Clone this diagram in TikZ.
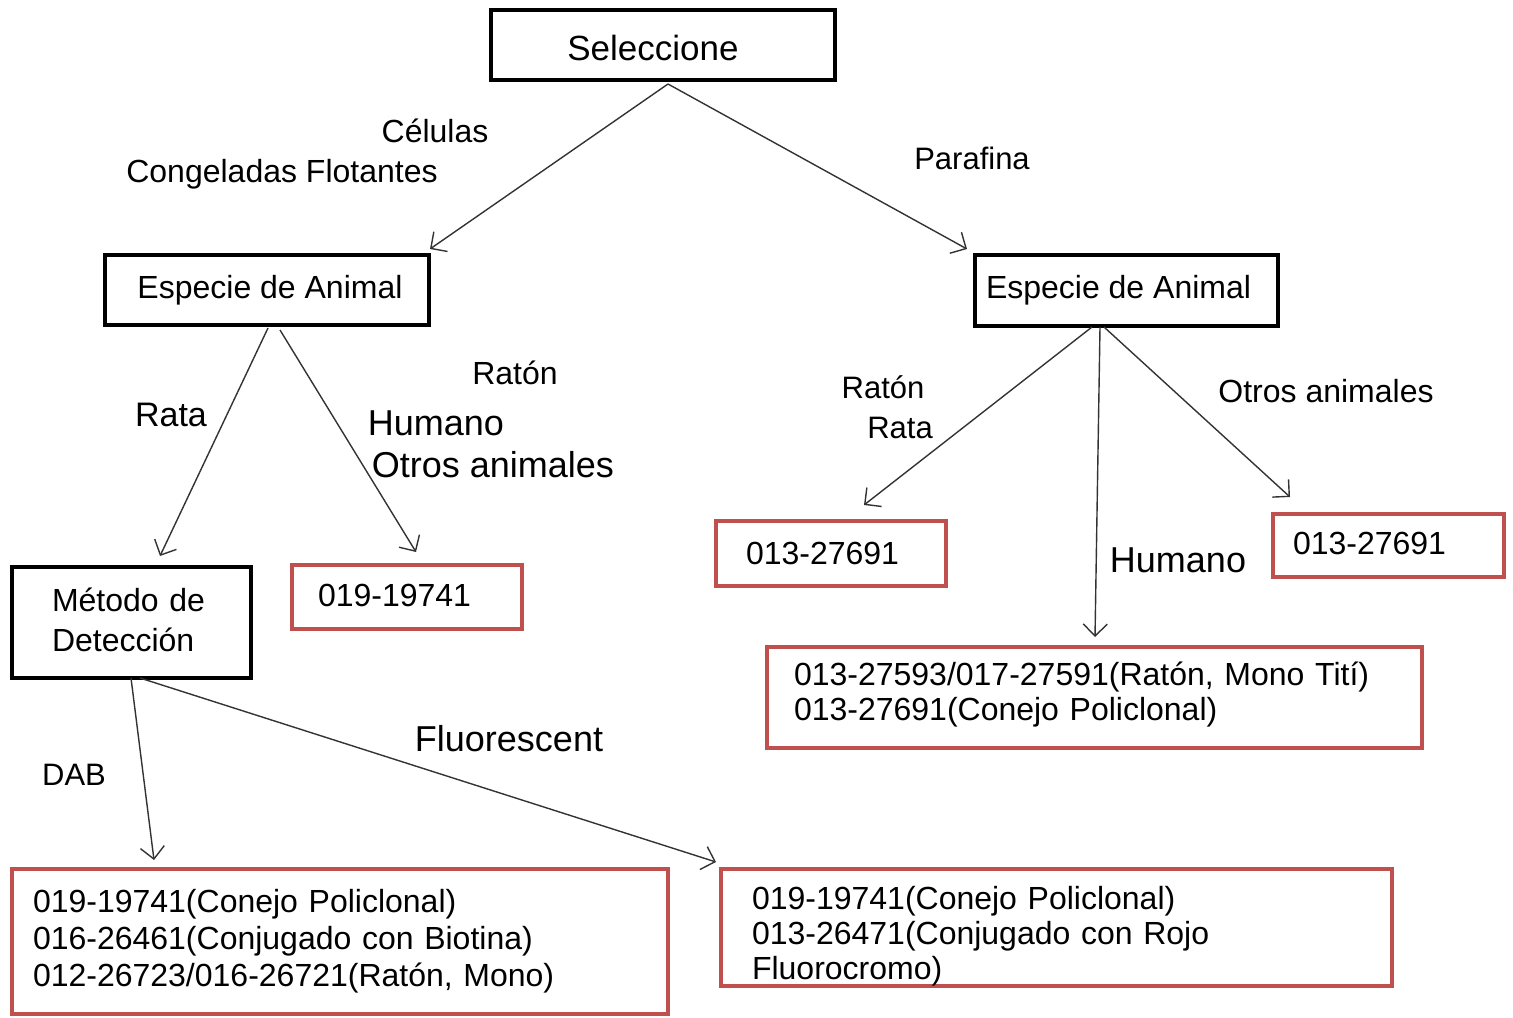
\documentclass[tikz,border=0pt]{standalone}
\usepackage{fontspec}
\setmainfont{Liberation Sans}
\usetikzlibrary{arrows.meta}
\definecolor{boxred}{HTML}{C0504D}
\begin{document}
\begin{tikzpicture}[x=0.5pt,y=-0.5pt,
  blackbox/.style={draw=black,line width=2.2pt,rectangle,inner sep=0pt},
  redbox/.style={draw=boxred,line width=2pt,rectangle,inner ysep=0pt},
  arr/.style={draw=black!80,line width=0.7pt,-{Straight Barb[length=6pt,width=12pt]}},
  lbl/.style={font=\fontsize{16}{19}\selectfont,inner sep=0pt},
  big/.style={font=\fontsize{18}{21}\selectfont,inner sep=0pt}]
\useasboundingbox (0,0) rectangle (1513,1017);

% boxes
\node[blackbox,minimum width=172pt,minimum height=35pt,font=\fontsize{17.5}{21}\selectfont] (sel) at (663,45) {\hspace*{-10pt}\raisebox{-1.5pt}[\height][\depth]{Seleccione}};
\node[blackbox,minimum width=162pt,minimum height=35pt,lbl] (espL) at (267,290) {\hspace*{3pt}\raisebox{2.5pt}{Especie de Animal}};
\node[blackbox,minimum width=151.5pt,minimum height=35.5pt,lbl] (espR) at (1126.5,290.5) {\hspace*{-8pt}\raisebox{1pt}{Especie de Animal}};
\node[blackbox,minimum width=119.5pt,minimum height=55.5pt,inner xsep=20pt,text width=79.5pt,align=left,font=\fontsize{16}{20}\selectfont] (met) at (131.5,622.5) {\raisebox{1.5pt}[\height][\depth]{\parbox{79pt}{Método de\\Detección}}};

\node[redbox,minimum width=115pt,minimum height=32pt,inner xsep=13pt,text width=89pt,align=left,lbl] (r1) at (407,597) {\raisebox{2pt}{019-19741}};
\node[redbox,minimum width=115pt,minimum height=32.5pt,inner xsep=15pt,text width=85pt,align=left,lbl] (r2) at (831,553.5) {013-27691};
\node[redbox,minimum width=115.5pt,minimum height=31.5pt,inner xsep=10pt,text width=95.5pt,align=left,lbl] (r3) at (1388.5,545.5) {\raisebox{1pt}[\height][\depth]{013-27691}};
\node[redbox,minimum width=327.5pt,minimum height=50.5pt,inner xsep=13.5pt,text width=300.5pt,align=left,font=\fontsize{16}{17.5}\selectfont] (r4) at (1094.5,697.5) {\raisebox{1.5pt}[\height][\depth]{\parbox{300pt}{013-27593/017-27591(Ratón, Mono Tití)\\013-27691(Conejo Policlonal)}}};
\node[redbox,minimum width=328pt,minimum height=72.5pt,inner xsep=10.5pt,text width=307pt,align=left,font=\fontsize{16}{18.5}\selectfont] (r5) at (340,941.5) {019-19741(Conejo Policlonal)\\016-26461(Conjugado con Biotina)\\012-26723/016-26721(Ratón, Mono)};
\node[redbox,minimum width=335.5pt,minimum height=58.5pt,inner xsep=15.5pt,text width=304.5pt,align=left,font=\fontsize{16}{17.5}\selectfont] (r6) at (1056.5,927.5) {\raisebox{-4.5pt}[\height][\depth]{\parbox{304pt}{019-19741(Conejo Policlonal)\\013-26471(Conjugado con Rojo\\Fluorocromo)}}};

% labels
\node[lbl] (lcel) at (435,131) {Células};
\node[lbl] (lcong) at (282,174) {Congeladas Flotantes};
\node[lbl,font=\fontsize{15.5}{19}\selectfont] (lpar) at (972,158) {Parafina};
\node[lbl,font=\fontsize{17}{20}\selectfont] (lrata) at (171,415) {Rata};
\node[lbl] (lraton) at (515,373) {Ratón};
\node[big] (lhum) at (436,423) {Humano};
\node[big] (lotros) at (493,465) {Otros animales};
\node[lbl,font=\fontsize{15.5}{19}\selectfont] (lratonR) at (883,387) {Ratón};
\node[lbl,font=\fontsize{15.5}{19}\selectfont] (lrataR) at (900,428) {Rata};
\node[lbl] (lotrosR) at (1326,391) {Otros animales};
\node[big] (lhumR) at (1178,560) {Humano};
\node[big] (lfluo) at (509,739) {Fluorescent};
\node[lbl,font=\fontsize{15.5}{19}\selectfont] (ldab) at (74,775) {DAB};

% connector ends
\coordinate (s1) at (668,84);
\coordinate (e1) at (430,249);
\coordinate (e2) at (967,249);
\coordinate (s3) at (268,328);
\coordinate (e3) at (160,556);
\coordinate (s4) at (280,330);
\coordinate (e4) at (416,552);
\coordinate (s5) at (1092,327);
\coordinate (e5) at (864,505);
\coordinate (s6) at (1100,327);
\coordinate (e6) at (1095,637);
\coordinate (s7) at (1104,327);
\coordinate (e7) at (1290,497);
\coordinate (s8) at (131,678);
\coordinate (e8) at (154,860);
\coordinate (s9) at (140,678);
\coordinate (e9) at (716,862);

\draw[arr] (s1) -- (e1);
\draw[arr] (s1) -- (e2);
\draw[arr] (s3) -- (e3);
\draw[arr] (s4) -- (e4);
\draw[arr] (s5) -- (e5);
\draw[arr] (s6) -- (e6);
\draw[arr] (s7) -- (e7);
\draw[arr] (s8) -- (e8);
\draw[arr] (s9) -- (e9);
\end{tikzpicture}
\end{document}
